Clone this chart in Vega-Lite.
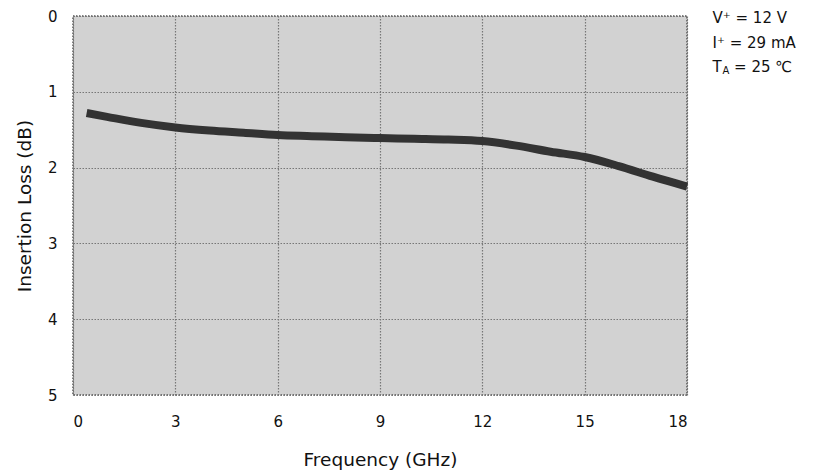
{
  "$schema": "https://vega.github.io/schema/vega-lite/v6.json",
  "width": 614,
  "height": 379,
  "autosize": "none",
  "padding": {"left": 73, "top": 16, "right": 128, "bottom": 79},
  "background": "white",
  "config": {
    "font": "DejaVu Sans",
    "view": {"fill": "#d2d2d2", "stroke": "#555555", "strokeWidth": 1.5, "strokeDash": [1.5, 1.5]},
    "axis": {
      "grid": true,
      "gridColor": "#777777",
      "gridDash": [1.5, 1.5],
      "gridWidth": 1.2,
      "gridOpacity": 1,
      "domain": false,
      "ticks": false,
      "labelFont": "DejaVu Sans",
      "labelFontSize": 15,
      "labelColor": "#111111",
      "titleFont": "DejaVu Sans",
      "titleFontSize": 18.5,
      "titleFontWeight": "normal",
      "titleColor": "#111111"
    }
  },
  "layer": [
    {
      "data": {
        "values": [
          {"freq": 0.4, "loss": 1.28},
          {"freq": 1, "loss": 1.33},
          {"freq": 2, "loss": 1.41},
          {"freq": 3, "loss": 1.47},
          {"freq": 4, "loss": 1.51},
          {"freq": 5, "loss": 1.54},
          {"freq": 6, "loss": 1.57},
          {"freq": 7, "loss": 1.585},
          {"freq": 8, "loss": 1.60},
          {"freq": 9, "loss": 1.61},
          {"freq": 10, "loss": 1.62},
          {"freq": 11, "loss": 1.63},
          {"freq": 12, "loss": 1.65},
          {"freq": 13, "loss": 1.71},
          {"freq": 14, "loss": 1.79},
          {"freq": 15, "loss": 1.86},
          {"freq": 16, "loss": 1.98},
          {"freq": 17, "loss": 2.12},
          {"freq": 18, "loss": 2.25}
        ]
      },
      "mark": {"type": "line", "color": "#333333", "strokeWidth": 8, "interpolate": "monotone"},
      "encoding": {
        "x": {
          "field": "freq", "type": "quantitative",
          "scale": {"domain": [0, 18], "nice": false},
          "axis": {"values": [0, 3, 6, 9, 12, 15, 18], "title": "Frequency (GHz)", "labelPadding": 19, "titlePadding": 21}
        },
        "y": {
          "field": "loss", "type": "quantitative",
          "scale": {"domain": [0, 5], "reverse": true, "nice": false},
          "axis": {"values": [0, 1, 2, 3, 4, 5], "format": "d", "title": "Insertion Loss (dB)", "labelPadding": 16, "titlePadding": 13}
        }
      }
    },
    {
      "data": {
        "values": [
          {"text": "V⁺ = 12 V", "freq": 18.75, "loss": 0.03},
          {"text": "I⁺ = 29 mA", "freq": 18.75, "loss": 0.35},
          {"text": "T", "freq": 18.75, "loss": 0.67},
          {"text": "= 25 ℃", "freq": 19.38, "loss": 0.67}
        ]
      },
      "mark": {"type": "text", "align": "left", "baseline": "middle", "fontSize": 15, "color": "#111111", "font": "DejaVu Sans"},
      "encoding": {
        "x": {"field": "freq", "type": "quantitative"},
        "y": {"field": "loss", "type": "quantitative"},
        "text": {"field": "text"}
      }
    },
    {
      "data": {"values": [{"text": "A", "freq": 19.04, "loss": 0.72}]},
      "mark": {"type": "text", "align": "left", "baseline": "middle", "fontSize": 10, "color": "#111111", "font": "DejaVu Sans"},
      "encoding": {
        "x": {"field": "freq", "type": "quantitative"},
        "y": {"field": "loss", "type": "quantitative"},
        "text": {"field": "text"}
      }
    }
  ]
}
